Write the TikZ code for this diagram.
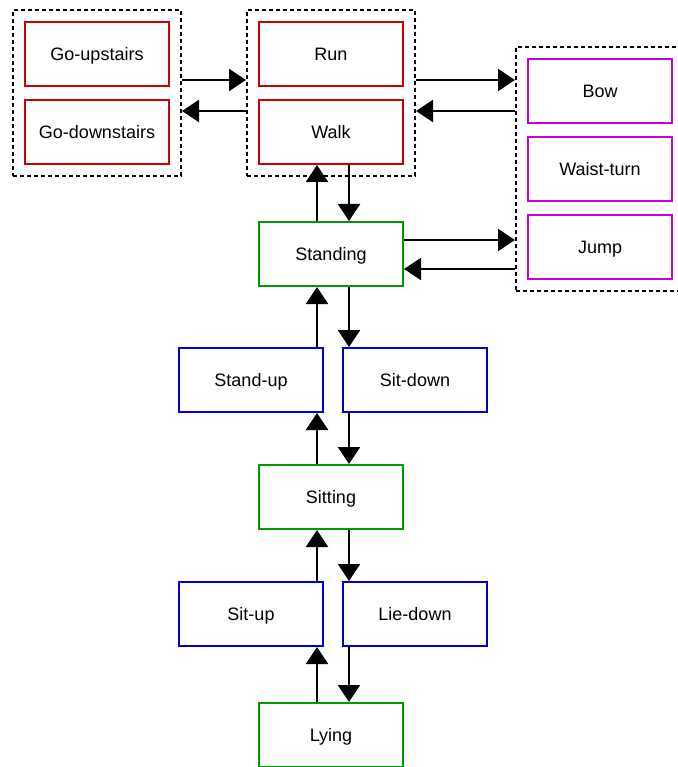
\documentclass[tikz,border=0pt]{standalone}
\usepackage{fontspec}
\setmainfont{Liberation Sans}
\usepackage{tikz}
\usetikzlibrary{calc}
\usetikzlibrary{arrows.meta}
\usetikzlibrary{fit}
\definecolor{act-red}{RGB}{204,0,0}
\definecolor{act-green}{RGB}{0,153,0}
\definecolor{act-blue}{RGB}{0,0,204}
\definecolor{act-magenta}{RGB}{204,0,204}

\begin{document}
\begin{tikzpicture}
  [
    x=1pt, y=-1pt,
    state/.style = {draw, line width=2pt, fill=white, minimum width=144pt,
                    minimum height=64pt, inner sep=0pt,
                    text height=13pt, text depth=0pt,
                    font=\fontsize{18}{22}\selectfont},
    group/.style = {draw, line width=2pt, dash pattern=on 4pt off 3pt,
                    inner sep=11pt},
    arr/.style   = {line width=2.2pt, -{Triangle[length=17pt, width=22pt]}}
  ]
\useasboundingbox (0,0) rectangle (677,767);
% Columns of the vertical arrows
\coordinate[] (upx) at (317, 0);
\coordinate[] (dnx) at (349, 0);

% ---------------------------------------------------
% Stairs
\node[state, draw=act-red] (goup)   at ( 97,  54) {Go-upstairs};
\node[state, draw=act-red] (godown) at ( 97, 132) {Go-downstairs};
% Locomotion
\node[state, draw=act-red] (run)    at (331,  54) {Run};
\node[state, draw=act-red] (walk)   at (331, 132) {Walk};
% Upper body
\node[state, draw=act-magenta] (bow)   at (600,  91) {Bow};
\node[state, draw=act-magenta] (waist) at (600, 169) {Waist-turn};
\node[state, draw=act-magenta] (jump)  at (600, 247) {Jump};
% Postures
\node[state, draw=act-green] (standing) at (331, 254) {Standing};
\node[state, draw=act-green] (sitting)  at (331, 497) {Sitting};
\node[state, draw=act-green] (lying)    at (331, 735) {Lying};
% Transitions
\node[state, draw=act-blue] (standup) at (251, 380) {Stand-up};
\node[state, draw=act-blue] (sitdown) at (415, 380) {Sit-down};
\node[state, draw=act-blue] (situp)   at (251, 614) {Sit-up};
\node[state, draw=act-blue] (liedown) at (415, 614) {Lie-down};

% Dashed groups
\node[group, fit=(goup) (godown)] (stairgrp) {};
\node[group, fit=(run) (walk)]    (movegrp)  {};
\node[group, fit=(bow) (jump)]    (bodygrp)  {};

% ---------------------------------------------------
% Between the groups
\path[] ([yshift=13]stairgrp.east)
        edge[arr] ([yshift=13]stairgrp.east -| movegrp.west);
\path[] ([yshift=-18]movegrp.west)
        edge[arr] ([yshift=-18]movegrp.west -| stairgrp.east);
\path[] ([yshift=13]movegrp.east)
        edge[arr] ([yshift=13]movegrp.east -| bodygrp.west);
\path[] ([yshift=-18]movegrp.east -| bodygrp.west)
        edge[arr] ([yshift=-18]movegrp.east);
% Standing and upper body
\path[] ([yshift=14]standing.east)
        edge[arr] ([yshift=14]standing.east -| bodygrp.west);
\path[] ([yshift=-15]standing.east -| bodygrp.west)
        edge[arr] ([yshift=-15]standing.east);

% Up the chain
\path[] (standing.north -| upx) edge[arr] (walk.south -| upx);
\path[] (standup.north -| upx)  edge[arr] (standing.south -| upx);
\path[] (sitting.north -| upx)  edge[arr] (standup.south -| upx);
\path[] (situp.north -| upx)    edge[arr] (sitting.south -| upx);
\path[] (lying.north -| upx)    edge[arr] (situp.south -| upx);
% Down the chain
\path[] (walk.south -| dnx)     edge[arr] (standing.north -| dnx);
\path[] (standing.south -| dnx) edge[arr] (sitdown.north -| dnx);
\path[] (sitdown.south -| dnx)  edge[arr] (sitting.north -| dnx);
\path[] (sitting.south -| dnx)  edge[arr] (liedown.north -| dnx);
\path[] (liedown.south -| dnx)  edge[arr] (lying.north -| dnx);
% ---------------------------------------------------
\end{tikzpicture}
\end{document}
